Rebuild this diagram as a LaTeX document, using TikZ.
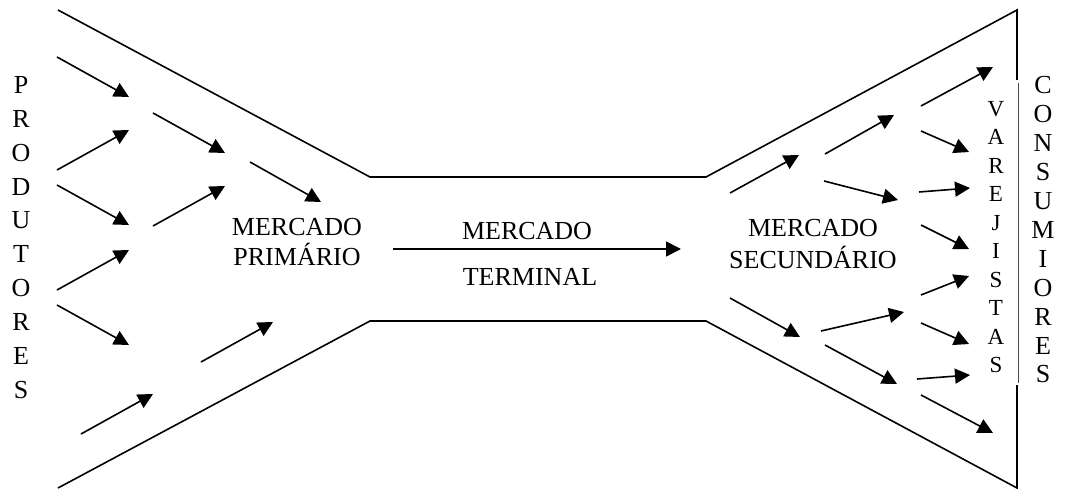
\documentclass[tikz,border=0pt]{standalone}
\usepackage{fontspec}
\setmainfont{Liberation Serif}
\usetikzlibrary{arrows.meta}
\begin{document}
\begin{tikzpicture}[x=1pt,y=-1pt,
  wall/.style={line width=1.6pt},
  flow/.style={line width=1.6pt,-{Triangle[length=15pt,width=15pt]}},
  lbl/.style={inner sep=0pt,align=center,font=\fontsize{26}{30}\selectfont},
  column/.style={inner sep=0pt,align=center}]
\useasboundingbox (0,0) rectangle (1065,489);

% funnel outline
\coordinate (tl) at (58,10);
\coordinate (tn) at (370,177);
\coordinate (tm) at (706,177);
\coordinate (tr) at (1017,10);
\coordinate (ru) at (1017,80);
\coordinate (bl) at (58,488);
\coordinate (bn) at (370,321);
\coordinate (bm) at (706,321);
\coordinate (br) at (1017,488);
\coordinate (rd) at (1017,385);
\coordinate (mu) at (1018.5,83);
\coordinate (md) at (1018.5,383);
\draw[wall] (tl) -- (tn) -- (tm) -- (tr) -- (ru);
\draw[wall] (bl) -- (bn) -- (bm) -- (br) -- (rd);
\draw[line width=0.6pt,black!70] (mu) -- (md);

% flows between producers and the primary market
\foreach \n/\a/\b/\c/\d in {
  p1/57/57/129/97, p2/57/170/129/130, p3/57/185/129/225,
  p4/57/290/129/250, p5/57/305/129/345,
  q1/153/113/225/153, q2/153/226/225/186,
  r1/250/162/321/202,
  s1/81/434/153/394, s2/201/362/273/322,
  % flows after the secondary market
  e1/730/193/799/155, e2/730/298/800/337,
  f1/825/154/894/115, f2/824/181/898/200,
  f3/821/331/904/312, f4/825/345/897/384,
  g1/921/106/993/67, g2/921/131/969/152, g3/919/192/970/188,
  g4/921/225/969/249, g5/921/295/969/276, g6/921/323/969/344,
  g7/917/379/970/375, g8/921/395/993/433}
{
  \coordinate (\n s) at (\a,\b);
  \coordinate (\n t) at (\c,\d);
  \draw[flow] (\n s) -- (\n t);
}

% terminal market flow
\coordinate (ms) at (393,249);
\coordinate (mt) at (681,249);
\draw[flow] (ms) -- (mt);

% labels
\node[lbl] (prim) at (297,242.5) {MERCADO\\PRIMÁRIO};
\node[lbl,anchor=base] (term1) at (527,239) {MERCADO};
\node[lbl,anchor=base] (term2) at (530,285) {TERMINAL};
\node[lbl,font=\fontsize{26}{32}\selectfont] (sec) at (813,244.5) {MERCADO\\SECUNDÁRIO};

\node[column,font=\fontsize{26}{33.9}\selectfont] (prod) at (21,237.5)
  {P\\R\\O\\D\\U\\T\\O\\R\\E\\S};
\node[column,font=\fontsize{23}{28.5}\selectfont] (varej) at (996,237)
  {V\\A\\R\\E\\J\\I\\S\\T\\A\\S};
\node[column,font=\fontsize{26}{28.9}\selectfont] (cons) at (1043,230)
  {C\\O\\N\\S\\U\\M\\I\\O\\R\\E\\S};
\end{tikzpicture}
\end{document}
